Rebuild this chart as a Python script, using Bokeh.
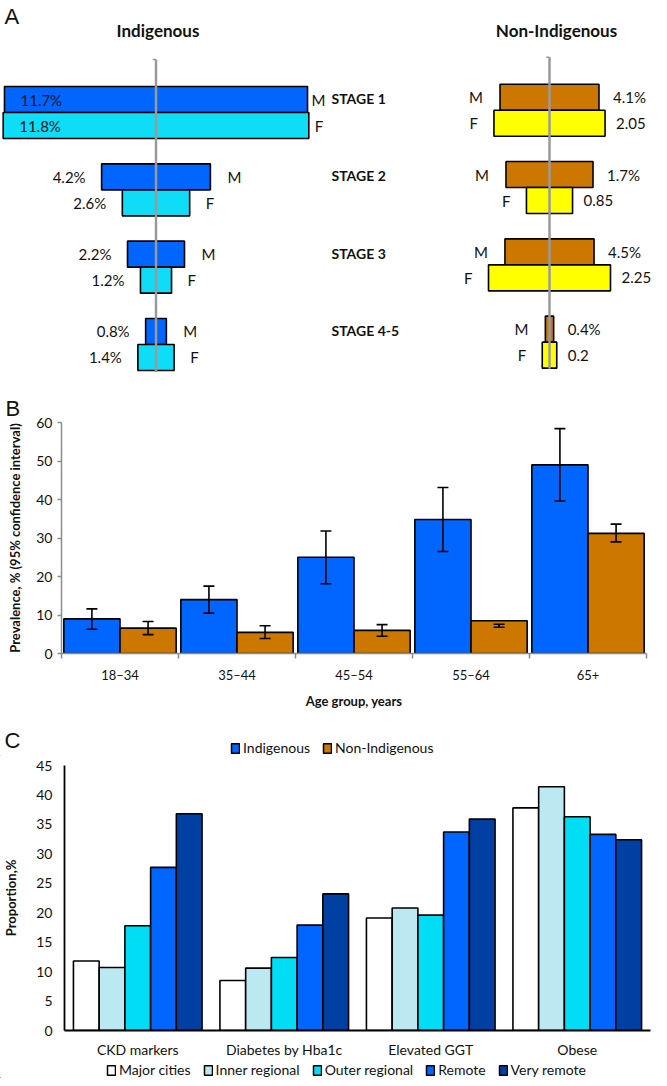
from bokeh.plotting import figure
from bokeh.layouts import column
from bokeh.models import (Range1d, ColumnDataSource, FixedTicker, Title, Legend,
                          LegendItem, Whisker, TeeHead, CDSView, IndexFilter)
from bokeh.core.properties import value
from bokeh.embed import file_html
from bokeh.resources import INLINE

# ------------------------------------------------------------------ data
# Panel A: CKD stage pyramids
stages = ["STAGE 1", "STAGE 2", "STAGE 3", "STAGE 4-5"]
ind_male = [11.7, 4.2, 2.2, 0.8]
ind_female = [11.8, 2.6, 1.2, 1.4]
ind_male_labels = ["11.7%", "4.2%", "2.2%", "0.8%"]
ind_female_labels = ["11.8%", "2.6%", "1.2%", "1.4%"]
nonind_male_labels = ["4.1%", "1.7%", "4.5%", "0.4%"]
nonind_female_labels = ["2.05", "0.85", "2.25", "0.2"]
# half-widths of the non-Indigenous bars as drawn in the picture (same % scale)
nonind_male_bar = [3.82, 3.36, 3.44, 0.32]
nonind_female_bar = [4.29, 1.78, 4.71, 0.56]

# Panel B: prevalence by age group
age_groups = ["18–34", "35–44", "45–54", "55–64", "65+"]
ind_prev = [9.0, 14.0, 25.0, 34.8, 49.0]
ind_lo = [6.3, 10.5, 18.1, 26.5, 39.6]
ind_hi = [11.6, 17.5, 31.8, 43.1, 58.4]
non_prev = [6.6, 5.5, 6.0, 8.5, 31.2]
non_lo = [4.9, 3.9, 4.5, 6.8, 29.0]
non_hi = [8.3, 7.2, 7.5, 7.6, 33.6]

# Panel C: proportion by remoteness
measures = ["CKD markers", "Diabetes by Hba1c", "Elevated GGT", "Obese"]
remoteness = ["Major cities", "Inner regional", "Outer regional", "Remote", "Very remote"]
major_cities = [11.8, 8.5, 19.1, 37.8]
inner_regional = [10.7, 10.6, 20.8, 41.4]
outer_regional = [17.8, 12.4, 19.6, 36.3]
remote = [27.7, 17.9, 33.7, 33.3]
very_remote = [36.8, 23.2, 35.9, 32.4]
top_legend = ["Indigenous", "Non-Indigenous"]

# ------------------------------------------------------------------ style
FONT = value("Lato")
FONT_NAME = "Lato"
W = 651
IND_M = "#0066FF"
IND_F = "#0FDDF8"
NON_M = "#CC7700"
NON_F = "#FFFF00"
C_COLORS = ["#FFFFFF", "#BCE9F1", "#00DDF5", "#0066FF", "#0040A3"]
TXT = "#111111"


def bare(h, xr, yr):
    p = figure(width=W, height=h, output_backend="svg", toolbar_location=None,
               x_axis_type=None, y_axis_type=None, min_border=0, title=None,
               x_range=xr, y_range=yr)
    p.frame_align = False
    p.outline_line_color = None
    return p


# ------------------------------------------------------------------ panel A
PX = 12.95          # px per %
A_H = 372
ROW_PX = 77.33
ROW0_PX = 112
BH = 26 / ROW_PX
LC = 155.5           # left pyramid centre (px)
RC = 549.0           # right pyramid centre (px)

pA = bare(A_H, Range1d(-LC / PX, (W - LC) / PX),
          Range1d((A_H - ROW0_PX) / ROW_PX, -ROW0_PX / ROW_PX))
pA.extra_x_ranges = {"r": Range1d(-RC / PX, (W - RC) / PX)}

k = list(range(len(stages)))
srcL = ColumnDataSource(dict(
    k=k,
    m=ind_male, nm=[-v for v in ind_male],
    f=ind_female, nf=[-v for v in ind_female],
    m_top=[i - BH for i in k], f_bot=[i + BH for i in k],
    m_y=[i - BH / 2 for i in k], f_y=[i + BH / 2 for i in k],
    mlab=ind_male_labels, flab=ind_female_labels,
    M=["M"] * 4, F=["F"] * 4, stage=stages, stage_y=[i - 14 / ROW_PX for i in k],
))
srcR = ColumnDataSource(dict(
    k=k,
    m=nonind_male_bar, nm=[-v for v in nonind_male_bar],
    f=nonind_female_bar, nf=[-v for v in nonind_female_bar],
    m_top=[i - BH - 0.03 for i in k], kk=[i - 0.03 for i in k], f_bot=[i + BH - 0.03 for i in k],
    m_y=[i - BH / 2 - 0.03 for i in k], f_y=[i + BH / 2 - 0.03 for i in k],
    mlab=nonind_male_labels, flab=nonind_female_labels,
    M=["M"] * 4, F=["F"] * 4,
))

pA.quad(left="nm", right="m", top="m_top", bottom="k", source=srcL,
        fill_color=IND_M, line_color="black", line_width=1.6)
pA.quad(left="nf", right="f", top="k", bottom="f_bot", source=srcL,
        fill_color=IND_F, line_color="black", line_width=1.6)
pA.quad(left="nm", right="m", top="m_top", bottom="kk", source=srcR, x_range_name="r",
        fill_color=NON_M, line_color="black", line_width=1.6)
pA.quad(left="nf", right="f", top="kk", bottom="f_bot", source=srcR, x_range_name="r",
        fill_color=NON_F, line_color="black", line_width=1.6)

# centre lines
LINE_TOP = (59 - ROW0_PX) / ROW_PX
LINE_BOT = (A_H - ROW0_PX) / ROW_PX
pA.segment(x0=[0], y0=[LINE_TOP], x1=[0], y1=[LINE_BOT], line_color="#9A9A9A", line_width=2.5)
pA.segment(x0=[-0.25], y0=[LINE_TOP], x1=[0], y1=[LINE_TOP], line_color="#9A9A9A", line_width=1.5)
pA.segment(x0=[0], y0=[LINE_TOP - 0.03], x1=[0], y1=[LINE_BOT - 0.05], line_color="#9A9A9A",
           line_width=2.5, x_range_name="r")
pA.segment(x0=[-0.25], y0=[LINE_TOP - 0.03], x1=[0], y1=[LINE_TOP - 0.03], line_color="#9A9A9A",
           line_width=1.5, x_range_name="r")

first = CDSView(filter=IndexFilter([0]))
rest = CDSView(filter=IndexFilter([1, 2, 3]))
tk = dict(text_font=FONT, text_font_size="15px", text_color=TXT, text_baseline="middle")

# left value labels
pA.text(x="nm", y="m_y", text="mlab", source=srcL, view=first, x_offset=16, text_align="left", **tk)
pA.text(x="nf", y="f_y", text="flab", source=srcL, view=first, x_offset=16, text_align="left", **tk)
pA.text(x="nm", y="m_y", text="mlab", source=srcL, view=rest, x_offset=-16, text_align="right", **tk)
pA.text(x="nf", y="f_y", text="flab", source=srcL, view=rest, x_offset=-16, text_align="right", **tk)
# left M/F letters
pA.text(x="m", y="m_y", text="M", source=srcL, view=first, x_offset=4, text_align="left", **tk)
pA.text(x="f", y="f_y", text="F", source=srcL, view=first, x_offset=6, text_align="left", **tk)
pA.text(x="m", y="m_y", text="M", source=srcL, view=rest, x_offset=17, text_align="left", **tk)
pA.text(x="f", y="f_y", text="F", source=srcL, view=rest, x_offset=16, text_align="left", **tk)
# right M/F letters and values
pA.text(x="nm", y="m_y", text="M", source=srcR, x_range_name="r", x_offset=-17, text_align="right", **tk)
pA.text(x="nf", y="f_y", text="F", source=srcR, x_range_name="r", x_offset=-16, text_align="right", **tk)
pA.text(x="m", y="m_y", text="mlab", source=srcR, x_range_name="r", x_offset=14, text_align="left", **tk)
pA.text(x="f", y="f_y", text="flab", source=srcR, x_range_name="r", x_offset=11, text_align="left", **tk)

# stage labels (between the two pyramids)
STAGE_X = (331 - LC) / PX
pA.text(x=STAGE_X, y="stage_y", text="stage", source=srcL, text_font=FONT, text_font_size="14px",
        text_font_style="bold", text_color=TXT, text_baseline="middle", text_align="left")

# titles
TITLE_Y = (30 - ROW0_PX) / ROW_PX
pA.text(x=[0], y=[TITLE_Y], text=["Indigenous"], x_offset=2, text_font=FONT, text_font_size="17px",
        text_font_style="bold", text_color=TXT, text_align="center", text_baseline="middle")
pA.text(x=[0], y=[TITLE_Y], text=["Non-Indigenous"], x_range_name="r", x_offset=7, text_font=FONT,
        text_font_size="17px", text_font_style="bold", text_color=TXT, text_align="center",
        text_baseline="middle")
pA.text(x=[-LC / PX], y=[-ROW0_PX / ROW_PX], text=["A"], x_offset=4, y_offset=3,
        text_font=value("Liberation Sans"), text_font_size="22px", text_color=TXT,
        text_align="left", text_baseline="top")


def style_axes(p, color, width):
    for ax in (p.xaxis, p.yaxis):
        ax.axis_line_color = color
        ax.axis_line_width = width
        ax.major_label_text_font = FONT_NAME
        ax.major_label_text_color = TXT
        ax.axis_label_text_font = FONT_NAME
        ax.axis_label_text_font_style = "bold"
        ax.axis_label_text_color = TXT
        ax.axis_label_text_font_size = "13px"
        ax.minor_tick_line_color = None
    p.xgrid.visible = False
    p.ygrid.visible = False
    p.outline_line_color = None


# ------------------------------------------------------------------ panel B
B_H = 339
pB = figure(width=W, height=B_H, output_backend="svg", toolbar_location=None,
            x_range=Range1d(0, len(age_groups)), y_range=Range1d(0, 60),
            min_border_left=61, min_border_right=5, min_border_top=50, min_border_bottom=51)
pB.frame_align = False
pB.title = Title(text="B", text_font="Liberation Sans", text_font_size="22px",
                 text_font_style="normal", text_color=TXT, align="left", offset=-56, standoff=4)
style_axes(pB, "#8C8C8C", 1.5)

gi = list(range(len(age_groups)))
BW = 0.48
srcB = ColumnDataSource(dict(
    xi=[i + 0.5 - BW / 2 for i in gi], xn=[i + 0.5 + BW / 2 for i in gi],
    ind=ind_prev, ilo=ind_lo, ihi=ind_hi, non=non_prev, nlo=non_lo, nhi=non_hi))
pB.vbar(x="xi", top="ind", bottom=0, width=BW, source=srcB, fill_color=IND_M,
        line_color="black", line_width=1.6)
pB.vbar(x="xn", top="non", bottom=0, width=BW, source=srcB, fill_color=NON_M,
        line_color="black", line_width=1.6)
for base, lo, hi in (("xi", "ilo", "ihi"), ("xn", "nlo", "nhi")):
    pB.add_layout(Whisker(source=srcB, base=base, lower=lo, upper=hi, line_color="black",
                          line_width=1.6, level="overlay",
                          upper_head=TeeHead(size=11, line_width=1.6, line_color="black"),
                          lower_head=TeeHead(size=11, line_width=1.6, line_color="black")))

pB.xaxis.ticker = FixedTicker(ticks=[i + 0.5 for i in gi], minor_ticks=list(range(len(gi) + 1)))
pB.xaxis.major_label_overrides = {i + 0.5: g for i, g in enumerate(age_groups)}
pB.xaxis.major_tick_line_color = None
pB.xaxis.major_tick_out = 0
pB.xaxis.major_tick_in = 0
pB.xaxis.minor_tick_line_color = "#8C8C8C"
pB.xaxis.minor_tick_line_width = 1.5
pB.xaxis.minor_tick_out = 5
pB.xaxis.minor_tick_in = 0
pB.xaxis.major_label_text_font_size = "13px"
pB.xaxis.major_label_standoff = 8
pB.xaxis.axis_label = "Age group, years"
pB.xaxis.axis_label_standoff = 7
pB.yaxis.ticker = FixedTicker(ticks=list(range(0, 61, 10)))
pB.yaxis.major_tick_line_color = "#8C8C8C"
pB.yaxis.major_tick_line_width = 1.5
pB.yaxis.major_tick_out = 4
pB.yaxis.major_tick_in = 0
pB.yaxis.major_label_text_font_size = "14px"
pB.yaxis.axis_label = "Prevalence, % (95% confidence interval)"
pB.yaxis.axis_label_standoff = 10

# ------------------------------------------------------------------ panel C, header strip
CT_H = 45
pCt = bare(CT_H, Range1d(0, W), Range1d(0, CT_H))
pCt.text(x=[0], y=[CT_H - 29], text=["C"], x_offset=4, text_font=value("Liberation Sans"),
         text_font_size="22px", text_color=TXT, text_align="left", text_baseline="middle")
hdr_src = ColumnDataSource(dict(x=[-100.0], top=[-100.0]))
hdr_r = [pCt.vbar(x="x", top="top", width=1, source=hdr_src, fill_color=c,
                  line_color="black", line_width=1.5) for c in (IND_M, NON_M)]
pCt.add_layout(Legend(items=[LegendItem(label=l, renderers=[r]) for l, r in zip(top_legend, hdr_r)],
                      orientation="horizontal", location=(230, 0), margin=0, padding=1,
                      spacing=12, glyph_width=10, glyph_height=12, label_standoff=3,
                      label_height=14, label_text_font=FONT_NAME, label_text_font_size="14px",
                      label_text_color=TXT, border_line_color=None, background_fill_alpha=0))

# ------------------------------------------------------------------ panel C, chart
C_H = 304
pC = figure(width=W, height=C_H, output_backend="svg", toolbar_location=None,
            x_range=Range1d(0, len(measures)), y_range=Range1d(0, 45),
            min_border_left=62, min_border_right=1, min_border_top=9, min_border_bottom=27)
pC.frame_align = False
style_axes(pC, "black", 1.8)

mi = list(range(len(measures)))
series = [major_cities, inner_regional, outer_regional, remote, very_remote]
CBW = 0.1756
C_PAD = 0.061
for j, (vals, col) in enumerate(zip(series, C_COLORS)):
    src = ColumnDataSource(dict(x=[i + C_PAD + CBW * (j + 0.5) for i in mi], top=vals))
    pC.vbar(x="x", top="top", bottom=0, width=CBW, source=src, fill_color=col,
            line_color="black", line_width=1.6)

pC.xaxis.ticker = FixedTicker(ticks=[i + 0.5 for i in mi])
pC.xaxis.major_label_overrides = {i + 0.5: m for i, m in enumerate(measures)}
pC.xaxis.major_tick_line_color = None
pC.xaxis.major_tick_out = 0
pC.xaxis.major_tick_in = 0
pC.xaxis.major_label_text_font_size = "14px"
pC.xaxis.major_label_standoff = 10
pC.yaxis.ticker = FixedTicker(ticks=list(range(0, 46, 5)))
pC.yaxis.major_tick_line_color = None
pC.yaxis.major_tick_out = 0
pC.yaxis.major_tick_in = 0
pC.yaxis.major_label_text_font_size = "14px"
pC.yaxis.major_label_standoff = 12
pC.yaxis.axis_label = "Proportion,%"
pC.yaxis.axis_label_standoff = 14

# ------------------------------------------------------------------ panel C, bottom legend strip
CL_H = 18
pCl = bare(CL_H, Range1d(0, W), Range1d(0, CL_H))
leg_src = ColumnDataSource(dict(x=[-100.0], top=[-100.0]))
leg_r = [pCl.vbar(x="x", top="top", width=1, source=leg_src, fill_color=c,
                  line_color="black", line_width=1.5) for c in C_COLORS]
pCl.add_layout(Legend(items=[LegendItem(label=l, renderers=[r]) for l, r in zip(remoteness, leg_r)],
                      orientation="horizontal", location=(106, 0), margin=0, padding=1,
                      spacing=12, glyph_width=10, glyph_height=12, label_standoff=3,
                      label_height=14, label_text_font=FONT_NAME, label_text_font_size="14px",
                      label_text_color=TXT, border_line_color=None, background_fill_alpha=0))

layout = column(pA, pB, pCt, pC, pCl, spacing=0)
open("out.html", "w").write(file_html(layout, INLINE))
